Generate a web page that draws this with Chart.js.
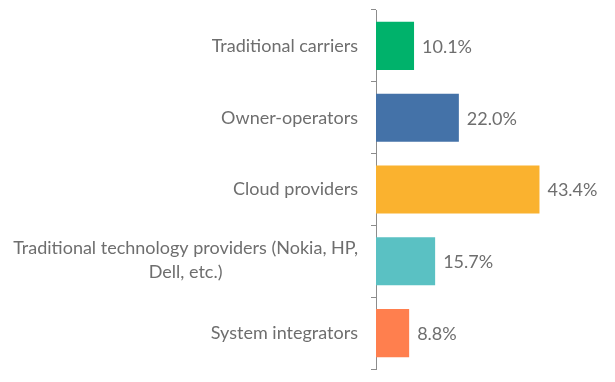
<!DOCTYPE html>
<html>
<head>
<meta charset="utf-8">
<script src="https://cdn.jsdelivr.net/npm/chart.js@4/dist/chart.umd.min.js"></script>
<style>
html,body{margin:0;padding:0;background:#fff;}
#wrap{width:615px;height:382px;position:relative;}
</style>
</head>
<body>
<div id="wrap"><canvas id="c" width="615" height="382"></canvas></div>
<script>
const categories = [
  ["Traditional carriers"],
  ["Owner-operators"],
  ["Cloud providers"],
  ["Traditional technology providers (Nokia, HP,", "Dell, etc."+")"],
  ["System integrators"]
];
const values = [10.1, 22.0, 43.4, 15.7, 8.8];
const barColors = ["#00B26B", "#4472A8", "#FAB22F", "#5AC1C3", "#FF7F4E"];
const valueLabels = ["10.1%", "22.0%", "43.4%", "15.7%", "8.8%"];

const FONT = "18px Lato";
const TEXT = "#6e6e6e";

const labelPlugin = {
  id: 'labels',
  afterDatasetsDraw(chart) {
    const ctx = chart.ctx;
    const meta = chart.getDatasetMeta(0);
    ctx.save();
    ctx.font = FONT;
    ctx.fillStyle = TEXT;
    ctx.textBaseline = 'middle';
    ctx.textAlign = 'left';
    meta.data.forEach((bar, i) => {
      ctx.fillText(valueLabels[i], bar.x + 8, bar.y + 1);
    });
    const ys = chart.scales.y;
    const right = ys.right - 18;
    const lh = 24;
    categories.forEach((lines, i) => {
      const y = ys.getPixelForTick(i);
      let maxW = 0;
      lines.forEach(l => { maxW = Math.max(maxW, ctx.measureText(l).width); });
      const cx = right - maxW / 2;
      ctx.textAlign = 'center';
      lines.forEach((l, k) => {
        const yy = y + (k - (lines.length - 1) / 2) * lh - (lines.length > 1 ? 1 : 0);
        ctx.fillText(l, cx, yy);
      });
    });
    ctx.restore();
  }
};

new Chart(document.getElementById('c'), {
  type: 'bar',
  data: {
    labels: categories.map(c => c.join(' ')),
    datasets: [{
      data: values,
      backgroundColor: barColors,
      borderWidth: 0,
      barPercentage: 0.67,
      categoryPercentage: 1.0
    }]
  },
  options: {
    indexAxis: 'y',
    responsive: false,
    animation: false,
    events: [],
    layout: { padding: { top: 10, bottom: 13, left: 0, right: 13 } },
    plugins: { legend: { display: false }, tooltip: { enabled: false } },
    scales: {
      x: {
        display: false,
        min: 0,
        max: 60
      },
      y: {
        afterFit(scale) { scale.width = 376; },
        ticks: { display: false },
        grid: {
          offset: true,
          drawOnChartArea: false,
          drawTicks: true,
          tickLength: 5,
          color: '#8c8c8c',
          lineWidth: 1
        },
        border: { display: true, color: '#8c8c8c', width: 1 }
      }
    }
  },
  plugins: [labelPlugin]
});
</script>
</body>
</html>
